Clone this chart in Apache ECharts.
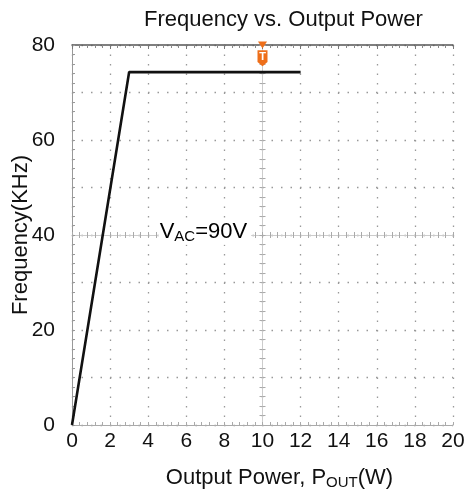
<!DOCTYPE html>
<html><head><meta charset="utf-8">
<script src="https://cdn.jsdelivr.net/npm/echarts@6/dist/echarts.min.js"></script>
<style>html,body{margin:0;padding:0;background:#fff}#c{width:468px;height:493px}</style>
</head><body><div id="c"></div>
<script>
// ---- data ----
const powerW = [0, 3, 12];
const freqKHz = [0, 74.3, 74.3];
const xTicks = [0, 2, 4, 6, 8, 10, 12, 14, 16, 18, 20];
const yTicks = [0, 20, 40, 60, 80];
const annotation = {x: 4.55, y: 40.6};
const trigger = {x: 10, yArrow: 80, yBadge: 77.2, label: 'T'};

const FONT = 'Liberation Sans';
const chart = echarts.init(document.getElementById('c'));
const G = {left: 72, right: 15, top: 45, bottom: 68};
const W = 468 - G.left - G.right, H = 493 - G.top - G.bottom;
const gridBase = {containLabel: false, outerBoundsMode: 'none'};

function baseX(extra) {
  return Object.assign({type: 'value', min: xTicks[0], max: xTicks[xTicks.length - 1], interval: 2,
    axisLabel: {show: false}, splitLine: {show: false}}, extra);
}
function baseY(extra) {
  return Object.assign({type: 'value', min: yTicks[0], max: yTicks[yTicks.length - 1], interval: 10,
    axisLabel: {show: false}, splitLine: {show: false}}, extra);
}

chart.setOption({
  animation: false,
  textStyle: {fontFamily: FONT},
  title: {text: 'Frequency vs. Output Power', left: 139, top: 4,
    textStyle: {fontFamily: FONT, fontSize: 22, fontWeight: 'normal', color: '#111'}},
  grid: [
    Object.assign({left: G.left, right: G.right, top: G.top, bottom: G.bottom}, gridBase),
    Object.assign({left: G.left + W / 2, right: G.right, top: G.top, bottom: G.bottom}, gridBase),
    Object.assign({left: G.left, right: G.right, top: G.top, bottom: G.bottom + H / 2}, gridBase)
  ],
  xAxis: [
    baseX({gridIndex: 0, position: 'bottom',
      axisLine: {show: true, lineStyle: {color: '#aaa', width: 1}},
      axisTick: {show: true, inside: true, length: 3, lineStyle: {color: '#aaa'}},
      minorTick: {show: true, splitNumber: 5, length: 3, lineStyle: {color: '#aaa'}},
      axisLabel: {show: true, fontSize: 21, color: '#111', margin: 6, fontFamily: FONT,
        formatter: v => xTicks.includes(v) ? String(v) : ''},
      splitLine: {show: true, lineStyle: {color: '#999', width: 1.3, type: [1.5, 8]}},
      name: '{a|Output Power, P}{s|OUT}{a|(W)}', nameLocation: 'middle', nameGap: 40,
      nameTextStyle: {padding: [0, 0, 0, 34], rich: {a: {fontSize: 22, color: '#111', fontFamily: FONT},
        s: {fontSize: 15, color: '#111', fontFamily: FONT, padding: [10, 0, 0, 0]}}}}),
    baseX({gridIndex: 0, position: 'top',
      axisLine: {show: true, lineStyle: {color: '#555', width: 1.5}},
      axisTick: {show: true, inside: true, length: 4, lineStyle: {color: '#777'}},
      minorTick: {show: true, splitNumber: 5, length: 3, lineStyle: {color: '#888'}}}),
    baseX({gridIndex: 2, position: 'bottom',
      axisLine: {show: true, lineStyle: {color: '#ccc', width: 1}},
      axisTick: {show: true, inside: true, length: 3, lineStyle: {color: '#aaa'}},
      minorTick: {show: true, splitNumber: 5, length: 3, lineStyle: {color: '#aaa'}}}),
    baseX({gridIndex: 2, position: 'bottom',
      axisLine: {show: false},
      axisTick: {show: true, inside: false, length: 3, lineStyle: {color: '#aaa'}},
      minorTick: {show: true, splitNumber: 5, length: 3, lineStyle: {color: '#aaa'}}}),
    baseX({gridIndex: 1, min: 10, max: 20, show: false})
  ],
  yAxis: [
    baseY({gridIndex: 0, position: 'left',
      axisLine: {show: true, lineStyle: {color: '#999', width: 1}},
      axisTick: {show: true, inside: true, length: 3, lineStyle: {color: '#999'}},
      minorTick: {show: true, splitNumber: 5, length: 3, lineStyle: {color: '#999'}},
      axisLabel: {show: true, fontSize: 21, color: '#111', margin: 17, fontFamily: FONT,
        formatter: v => yTicks.includes(v) ? String(v) : ''},
      splitLine: {show: true, lineStyle: {color: '#999', width: 1.3, type: [1.5, 8]}},
      name: 'Frequency(KHz)', nameLocation: 'middle', nameGap: 40, nameMoveOverlap: false,
      nameTextStyle: {fontSize: 22, color: '#111', fontFamily: FONT}}),
    baseY({gridIndex: 1, position: 'left',
      axisLine: {show: true, lineStyle: {color: '#ccc', width: 1}},
      axisTick: {show: true, inside: true, length: 3, lineStyle: {color: '#aaa'}},
      minorTick: {show: true, splitNumber: 5, length: 3, lineStyle: {color: '#aaa'}}}),
    baseY({gridIndex: 1, position: 'left',
      axisLine: {show: false},
      axisTick: {show: true, inside: false, length: 3, lineStyle: {color: '#aaa'}},
      minorTick: {show: true, splitNumber: 5, length: 3, lineStyle: {color: '#aaa'}}}),
    baseY({gridIndex: 2, min: 40, max: 80, show: false})
  ],
  series: [
    {type: 'line', xAxisIndex: 0, yAxisIndex: 0, data: powerW.map((x, i) => [x, freqKHz[i]]),
      symbol: 'none', lineStyle: {color: '#111', width: 2.6}, z: 5},
    {type: 'scatter', xAxisIndex: 0, yAxisIndex: 0, data: [[trigger.x, trigger.yArrow]],
      symbol: 'triangle', symbolRotate: 180, symbolSize: [9, 7],
      itemStyle: {color: '#ee6f1a', opacity: 1}, z: 6},
    {type: 'scatter', xAxisIndex: 0, yAxisIndex: 0, data: [[trigger.x, trigger.yBadge]],
      symbol: 'path://M0,0 L10,0 L10,11 L5,15 L0,11 Z', symbolSize: [10, 16],
      itemStyle: {color: '#ee6f1a', opacity: 1}, z: 6,
      label: {show: true, formatter: trigger.label, position: 'inside', color: '#fff',
        fontSize: 11, fontWeight: 'bold', offset: [0, -1]}},
    {type: 'scatter', xAxisIndex: 0, yAxisIndex: 0, data: [[annotation.x, annotation.y]],
      symbolSize: 0, z: 7, silent: true,
      label: {show: true, position: 'right', distance: 0, color: '#000', opacity: 1,
        backgroundColor: '#fff', padding: [0, 4, 0, 1],
        formatter: '{v|V}{s|AC}{v|=90V}',
        rich: {v: {fontSize: 22, color: '#000', fontFamily: FONT},
          s: {fontSize: 15, color: '#000', fontFamily: FONT, padding: [10, 0, 0, 0]}}}}
  ]
});
</script></body></html>
